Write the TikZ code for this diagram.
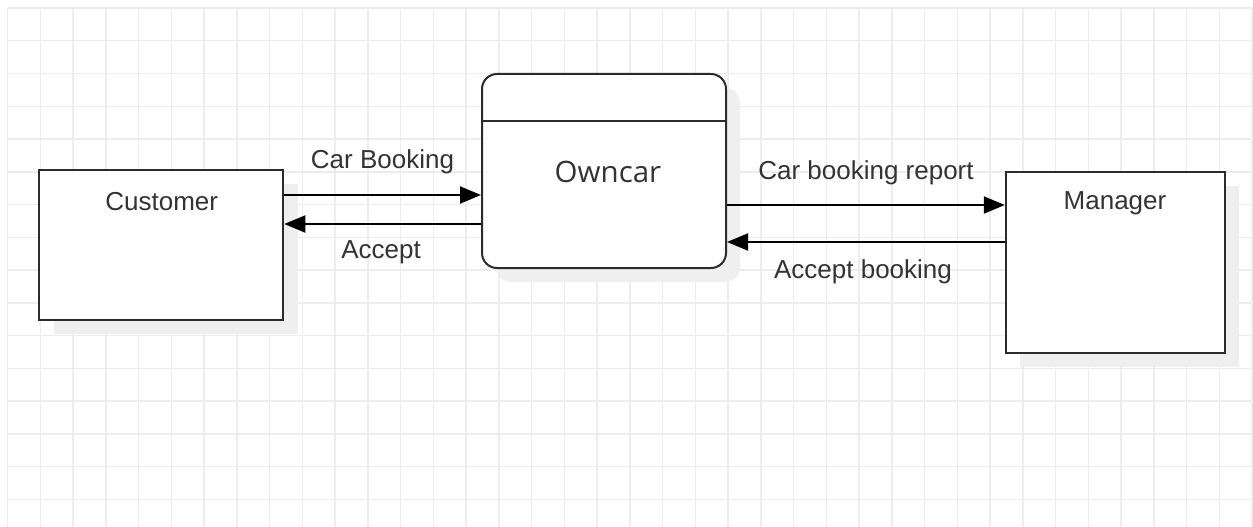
\documentclass[tikz,border=0pt]{standalone}
\usepackage{fontspec}
\setmainfont{Liberation Sans}
\newfontfamily\ownfont{Open Sans}
\usetikzlibrary{arrows.meta}
\definecolor{gridc}{HTML}{EDEDED}
\definecolor{shadowc}{HTML}{EFEFEF}
\definecolor{txtc}{HTML}{333333}
\definecolor{edgec}{HTML}{2B2B2B}
\tikzset{
  boxshape/.style={draw=edgec, line width=2pt, fill=white, inner sep=0pt},
  shadowbox/.style={fill=shadowc, draw=none, inner sep=0pt},
  lbl/.style={text=txtc, inner sep=0pt, font=\fontsize{26}{30}\selectfont},
  flow/.style={draw=black, line width=2pt, -{Triangle[length=21pt,width=17pt]}},
}
\begin{document}
\begin{tikzpicture}[x=1pt,y=-1pt]
\useasboundingbox[fill=white] (0,0) rectangle (1253,527);
% grid
\foreach \k in {0,...,38} {\draw[gridc, line width=1.5pt] ({7.5+32.75*\k},8) -- ({7.5+32.75*\k},527);}
\foreach \k in {0,...,15} {\draw[gridc, line width=1.5pt] (7.5,{8+32.75*\k}) -- (1253,{8+32.75*\k});}
% shadows
\node[shadowbox, minimum width=244pt, minimum height=150pt] (custsh) at (176.3,259.3) {};
\node[shadowbox, minimum width=219pt, minimum height=181pt, rounded corners=0pt] (mansh) at (1129.5,276.5) {};
\node[shadowbox, minimum width=244pt, minimum height=194pt, rounded corners=15pt] (ownsh) at (618,185) {};
% boxes
\node[boxshape, minimum width=244pt, minimum height=150pt] (cust) at (161.3,245.3) {};
\node[boxshape, minimum width=219pt, minimum height=181pt] (man) at (1115.3,262.5) {};
\node[boxshape, minimum width=244pt, minimum height=194pt, rounded corners=15pt] (own) at (604,171) {};
\coordinate (divl) at (482,121);
\coordinate (divr) at (726,121);
\draw[edgec, line width=2pt] (divl) -- (divr);
% texts
\node[lbl] (custt) at (161.7,201.7) {Customer};
\node[lbl] (mant) at (1115,203) {Manager};
\node[text=txtc, inner sep=0pt, font=\ownfont\fontsize{29.5}{34}\selectfont] (ownt) at (608,172) {Owncar};
% flows
\draw[flow] (cust.east |- 0,195) -- (own.west |- 0,195);
\draw[flow] (own.west |- 0,224) -- (cust.east |- 0,224);
\draw[flow] (own.east |- 0,205) -- (man.west |- 0,205);
\draw[flow] (man.west |- 0,242) -- (own.east |- 0,242);
\node[lbl] (l1) at (382.5,162) {Car Booking};
\node[lbl] (l2) at (381,252) {Accept};
\node[lbl] (l3) at (866,173) {Car booking report};
\node[lbl] (l4) at (863,272) {Accept booking};
\end{tikzpicture}
\end{document}
